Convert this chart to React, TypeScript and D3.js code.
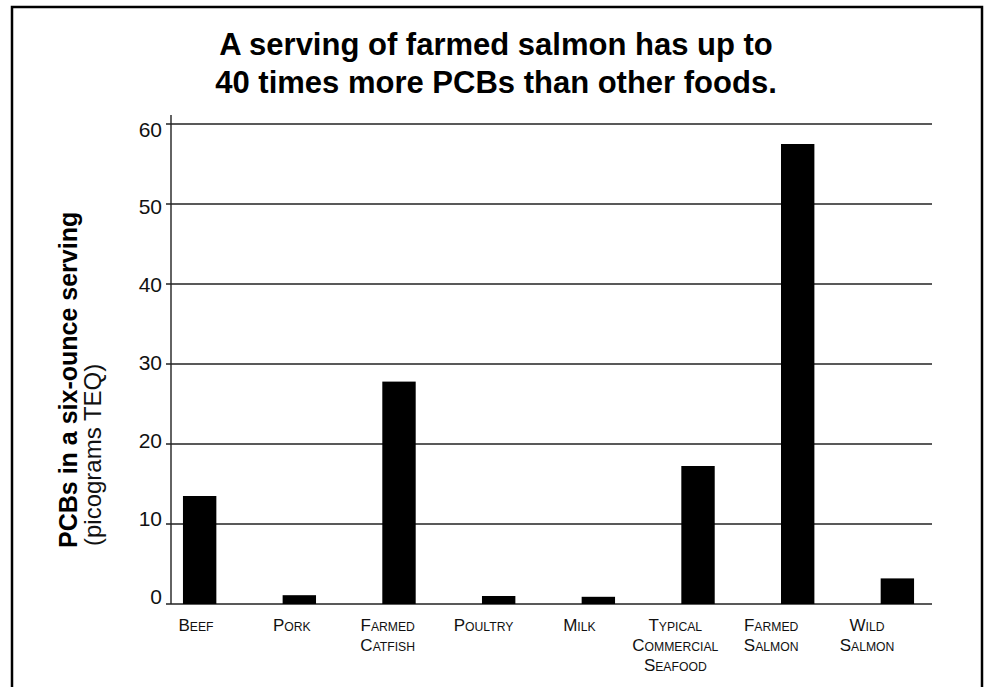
import * as d3 from 'd3';

const categories = ['Beef', 'Pork', 'Farmed Catfish', 'Poultry', 'Milk', 'Typical Commercial Seafood', 'Farmed Salmon', 'Wild Salmon'];
const labelLines = [['Beef'], ['Pork'], ['Farmed', 'Catfish'], ['Poultry'], ['Milk'], ['Typical', 'Commercial', 'Seafood'], ['Farmed', 'Salmon'], ['Wild', 'Salmon']];
const pcbValues = [13.5, 1.1, 27.8, 1.0, 0.9, 17.25, 57.5, 3.2];
const yTicks = [0, 10, 20, 30, 40, 50, 60];
const titleLines = ['A serving of farmed salmon has up to', '40 times more PCBs than other foods.'];

const FONT = '"Liberation Sans", Arial, Helvetica, sans-serif';

// small caps: first letter of each word full size, rest smaller uppercase
function SmallCaps({ word }: { word: string }) {
  return (
    <>
      <tspan fontSize={17}>{word[0].toUpperCase()}</tspan>
      <tspan fontSize={12.2}>{word.slice(1).toUpperCase()}</tspan>
    </>
  );
}

export default function App() {
  const width = 990;
  const height = 687;
  const left = 171;
  const right = 932;

  const y = d3.scaleLinear().domain([0, 60]).range([604, 124]);
  // tick labels sit on a slightly tighter spacing than the grid
  const yLabel = d3.scaleLinear().domain([0, 60]).range([596, 129]);

  const x = d3.scaleBand<string>()
    .domain(categories)
    .range([left, right])
    .paddingInner(0.665)
    .paddingOuter(0.15)
    .align(0.4);

  const xLabel = d3.scalePoint<string>().domain(categories).range([196, 867]);

  return (
    <svg width={width} height={height} style={{ position: 'absolute', left: 0, top: 0, background: '#fff' }} fontFamily={FONT}>
      <rect x={12} y={7} width={970} height={700} fill="#fff" stroke="#000" strokeWidth={2.5} />

      {titleLines.map((t, i) => (
        <text key={t} x={496} y={55 + i * 38} textAnchor="middle" fontSize={31} fontWeight="bold" fill="#000">{t}</text>
      ))}

      {/* grid lines + ticks */}
      {yTicks.map((t) => (
        <g key={t}>
          <line x1={left - 5} x2={right} y1={y(t)} y2={y(t)} stroke="#222" strokeWidth={1.4} />
          <text x={162} y={yLabel(t)} dy="0.36em" textAnchor="end" fontSize={21} fill="#111">{t}</text>
        </g>
      ))}
      <line x1={left} x2={left} y1={115} y2={y(0)} stroke="#222" strokeWidth={1.4} />

      {/* bars */}
      {categories.map((c, i) => (
        <rect key={c} x={x(c)} y={y(pcbValues[i])} width={x.bandwidth()} height={y(0) - y(pcbValues[i])} fill="#000" />
      ))}

      {/* category labels */}
      {categories.map((c, i) => (
        <text key={c} textAnchor="middle" fill="#111">
          {labelLines[i].map((w, j) => (
            <tspan key={w + j} x={xLabel(c)} y={630.5 + j * 20}>
              <SmallCaps word={w} />
            </tspan>
          ))}
        </text>
      ))}

      {/* y axis title */}
      <text transform="translate(77,548) rotate(-90)" fontSize={25} fontWeight="bold" fill="#000">PCBs in a six-ounce serving</text>
      <text transform="translate(101,546) rotate(-90)" fontSize={24} fill="#111">(picograms TEQ)</text>
    </svg>
  );
}
